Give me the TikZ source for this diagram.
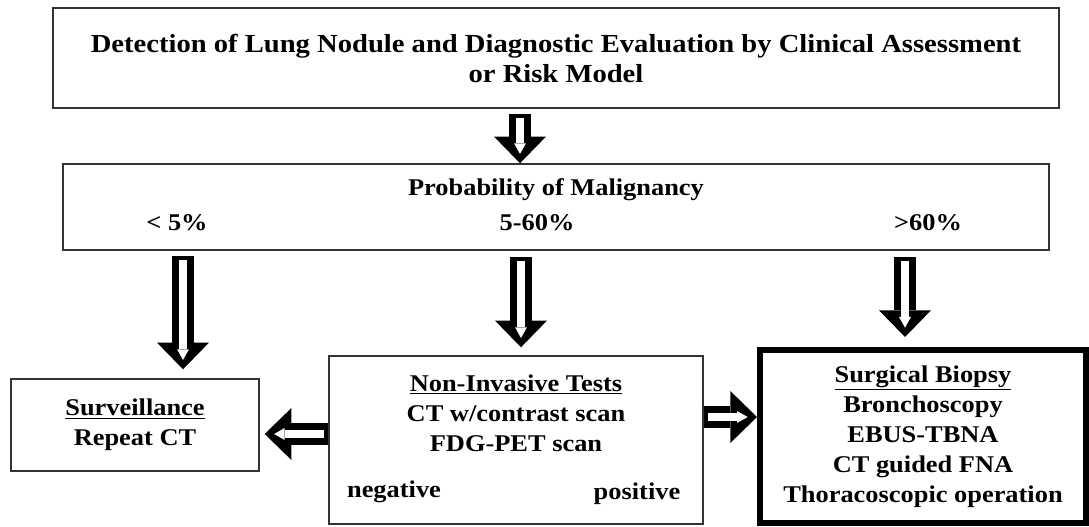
\documentclass[tikz,border=0pt]{standalone}
\usepackage{fontspec}
\setmainfont[FakeStretch=1.1]{Liberation Serif}
\usetikzlibrary{arrows.meta,positioning,calc}

\tikzset{
	box/.style={draw=black!80, line width=1.1pt, rectangle, align=center, inner sep=0pt, font=\lowfont},
	thickbox/.style={draw=black, line width=4.5pt, rectangle, align=center, inner sep=0pt, font=\lowfont},
	txt/.style={align=center, inner sep=0pt, font=\lowfont},
	blockarrow/.style 2 args={line width=16.5pt, shorten <=#1, shorten >=#2,
		-{Triangle[width=39pt,length=20pt,line width=0pt]},
		postaction={draw, white, line width=5.5pt, shorten <=#1+3pt, shorten >=#2+7pt,
			-{Triangle[width=9pt,length=8pt,line width=0pt]}}}
}
\newcommand{\lowfont}{\fontsize{18}{22.5}\selectfont\bfseries}
\newcommand{\topfont}{\fontsize{19.5}{22.5}\selectfont\bfseries}

\begin{document}
\begin{tikzpicture}[x=0.75pt, y=-0.75pt]
		\useasboundingbox (0,0) rectangle (1089,527);
		% boxes
		\node (top) [box, font=\topfont, minimum width=754.5pt, minimum height=75pt] at (556,58)
			{Detection of Lung Nodule and Diagnostic Evaluation by Clinical Assessment\\or Risk Model};
		\node (prob) [box, minimum width=739.5pt, minimum height=64.5pt] at (556,207) {};
		\node (surv) [box, minimum width=186pt, minimum height=69pt] at (135,425)
			{\underline{Surveillance}\\Repeat CT};
		\node (nonin) [box, minimum width=280.5pt, minimum height=126pt] at (516,440) {};
		\node (surg) [thickbox, minimum width=244.5pt, minimum height=129.75pt] at (923,436.5)
			{\underline{Surgical Biopsy}\\Bronchoscopy\\EBUS-TBNA\\CT guided FNA\\Thoracoscopic operation};
		% texts
		\node (probtitle) [txt] at (556,190) {Probability of Malignancy};
		\node (low) [txt] at (177,223) {< 5\%};
		\node (mid) [txt] at (537,223) {5-60\%};
		\node (high) [txt] at (928,223) {>60\%};
		\node (nitext) [txt] at (516,413) {\underline{Non-Invasive Tests}\\CT w/contrast scan\\FDG-PET scan};
		\node (neg) [txt] at (394,492) {negative};
		\node (pos) [txt] at (637,494) {positive};
		% arrows
		\coordinate (xa) at (520,0);
		\coordinate (xlow) at (183,0);
		\coordinate (xmid) at (521,0);
		\coordinate (xhigh) at (905,0);
		\coordinate (yneg) at (0,434);
		\coordinate (ypos) at (0,417);
		\draw[blockarrow={3.75pt}{0pt}] (top.south -| xa) -- (prob.north -| xa);
		\draw[blockarrow={3.75pt}{6.75pt}] (prob.south -| xlow) -- (surv.north -| xlow);
		\draw[blockarrow={5pt}{6pt}] (prob.south -| xmid) -- (nonin.north -| xmid);
		\draw[blockarrow={5pt}{7.5pt}] (prob.south -| xhigh) -- (surg.north -| xhigh);
		\draw[blockarrow={0pt}{3.75pt}] (nonin.west |- yneg) -- (surv.east |- yneg);
		\draw[blockarrow={0pt}{0pt}] (nonin.east |- ypos) -- (surg.west |- ypos);
\end{tikzpicture}
\end{document}
